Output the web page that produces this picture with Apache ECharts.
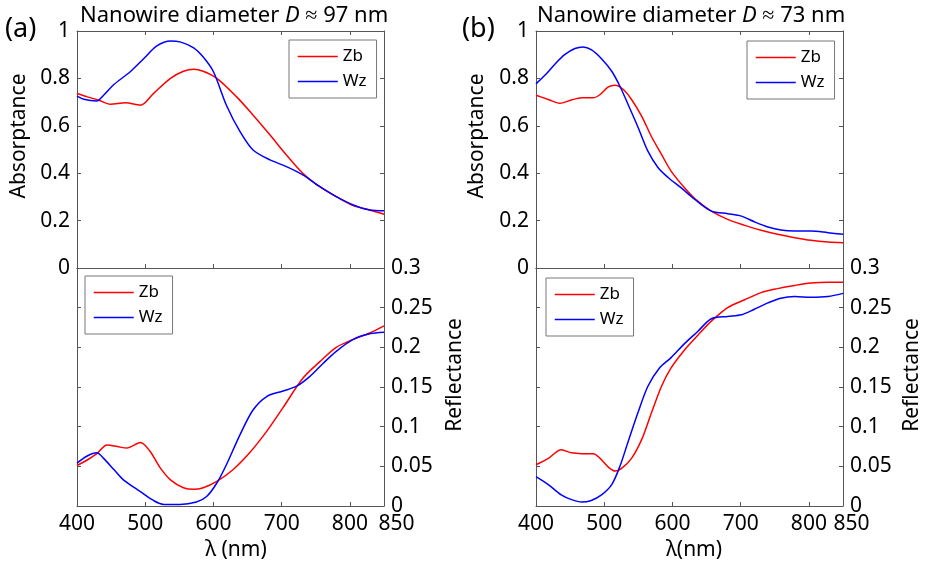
<!DOCTYPE html>
<html>
<head>
<meta charset="utf-8">
<script src="https://cdn.jsdelivr.net/npm/echarts@6/dist/echarts.min.js"></script>
<style>
html,body{margin:0;padding:0;background:#fff;}
#c{width:925px;height:567px;}
</style>
</head>
<body>
<div id="c"></div>
<script>
// ---------- DATA ----------
// Panel (a): D ≈ 97 nm
const aAbsZbLam = [400,415,432,449,471,493,512,537,556,571,585,605,634,656,683,707,731,756,780,805,829,850];
const aAbsZbVal = [0.736,0.722,0.708,0.691,0.697,0.687,0.736,0.800,0.830,0.839,0.830,0.800,0.722,0.652,0.561,0.477,0.400,0.343,0.301,0.263,0.245,0.227];
const aAbsWzLam = [400,410,429,439,454,478,498,517,537,551,571,585,600,619,639,658,683,707,731,756,780,805,829,850];
const aAbsWzVal = [0.725,0.712,0.705,0.729,0.774,0.828,0.884,0.937,0.958,0.954,0.929,0.890,0.828,0.687,0.575,0.498,0.456,0.428,0.393,0.343,0.301,0.266,0.245,0.242];
const aRefZbLam = [400,415,429,444,459,473,493,507,522,537,556,571,585,605,629,653,678,702,731,756,780,805,829,850];
const aRefZbVal = [0.051,0.058,0.066,0.077,0.075,0.073,0.080,0.069,0.048,0.033,0.023,0.021,0.023,0.031,0.046,0.067,0.094,0.124,0.161,0.182,0.200,0.210,0.218,0.227];
const aRefWzLam = [400,415,429,439,454,468,493,512,527,551,575,590,605,619,639,658,678,702,722,741,761,780,805,829,850];
const aRefWzVal = [0.054,0.063,0.067,0.060,0.046,0.033,0.018,0.007,0.002,0.002,0.005,0.012,0.029,0.052,0.090,0.121,0.138,0.145,0.151,0.163,0.180,0.195,0.210,0.217,0.219];

// Panel (b): D ≈ 73 nm
const bAbsZbLam = [400,418,435,452,467,484,494,506,516,528,540,555,569,584,598,618,637,657,681,706,730,754,779,803,828,850];
const bAbsZbVal = [0.729,0.711,0.695,0.709,0.718,0.718,0.732,0.764,0.771,0.753,0.711,0.640,0.556,0.479,0.409,0.338,0.282,0.240,0.205,0.180,0.159,0.142,0.128,0.117,0.110,0.107];
const bAbsWzLam = [400,413,428,442,457,469,481,496,511,523,535,550,564,579,594,613,633,657,681,701,720,740,759,779,803,828,850];
const bAbsWzVal = [0.777,0.813,0.861,0.900,0.926,0.933,0.921,0.883,0.830,0.767,0.690,0.591,0.493,0.423,0.381,0.338,0.289,0.240,0.229,0.219,0.195,0.173,0.160,0.156,0.156,0.149,0.142];
const bRefZbLam = [400,418,437,452,467,484,494,506,516,525,540,555,569,584,598,618,637,657,681,706,730,754,779,803,828,850];
const bRefZbVal = [0.052,0.060,0.071,0.067,0.066,0.066,0.060,0.049,0.044,0.047,0.060,0.084,0.117,0.151,0.174,0.197,0.215,0.233,0.250,0.260,0.269,0.274,0.278,0.281,0.282,0.282];
const bRefWzLam = [400,418,437,452,467,481,496,511,523,535,550,564,581,598,618,637,657,681,701,720,740,759,779,803,828,850];
const bRefWzVal = [0.037,0.027,0.014,0.008,0.005,0.007,0.014,0.027,0.050,0.081,0.119,0.151,0.174,0.187,0.205,0.220,0.236,0.239,0.241,0.248,0.256,0.262,0.264,0.263,0.264,0.268];

const xMin = 400, xMax = 850, xInterval = 100;
const absMax = 1, absInterval = 0.2;
const refMax = 0.3, refInterval = 0.05;
const seriesNames = ['Zb', 'Wz'];
const titleA = 'Nanowire diameter ';
const titleAVal = ' ≈ 97 nm';
const titleBVal = ' ≈ 73 nm';

// ---------- STYLE ----------
const FONT = 'Noto Sans';
const frame = '#555';
const RED = '#ff0000', BLUE = '#0000ff';
const panels = [
  {left: 77, maxShift: 25, absZb: [aAbsZbLam, aAbsZbVal], absWz: [aAbsWzLam, aAbsWzVal], refZb: [aRefZbLam, aRefZbVal], refWz: [aRefWzLam, aRefWzVal]},
  {left: 536, maxShift: 17, absZb: [bAbsZbLam, bAbsZbVal], absWz: [bAbsWzLam, bAbsWzVal], refZb: [bRefZbLam, bRefZbVal], refWz: [bRefWzLam, bRefWzVal]}
];
const W = 307, TOP = 31, MID = 268, BOT = 506;

const grid = [], xAxis = [], yAxis = [], series = [];
function pairs(p){ return p[0].map((x,i)=>[x, p[1][i]]); }
function xAx(gi, pos, labels, ticks, shift){
  return {type:'value', gridIndex:gi, position:pos, min:xMin, max:xMax, interval:xInterval,
    axisLine:{show:true, onZero:false, lineStyle:{color:frame, width:1}},
    axisTick:{show:ticks, inside:true, length:4, lineStyle:{color:frame}},
    axisLabel:{show:labels, margin:8, color:'#000', fontFamily:FONT, fontSize:21,
      showMinLabel:true, showMaxLabel:true, hideOverlap:false,
      formatter: v => v === xMax ? '{m|' + v + '}' : String(v),
      rich:{m:{padding:[0,0,0,shift||0], color:'#000', fontFamily:FONT, fontSize:21}}},
    splitLine:{show:false}};
}
function yAx(gi, pos, max, interval, labels, ticks){
  return {type:'value', gridIndex:gi, position:pos, min:0, max:max, interval:interval,
    axisLine:{show:true, onZero:false, lineStyle:{color:frame, width:1}},
    axisTick:{show:ticks, inside:true, length:4, lineStyle:{color:frame}},
    axisLabel:{show:labels, margin:7, color:'#000', fontFamily:FONT, fontSize:21},
    splitLine:{show:false}};
}
function line(name, color, xi, yi, p){
  return {type:'line', name:name, xAxisIndex:xi, yAxisIndex:yi, data:pairs(p),
    showSymbol:false, symbol:'none', smooth:0.3, lineStyle:{color:color, width:1.5},
    itemStyle:{color:color}, emphasis:{disabled:true}, animation:false};
}
const legends = [];
const legendPos = [[289,40],[85,276],[747,41],[546,278]];
panels.forEach((p, k) => {
  const gTop = grid.length;
  grid.push({left:p.left, top:TOP, width:W, height:MID-TOP});
  grid.push({left:p.left, top:MID, width:W, height:BOT-MID});
  const xi = xAxis.length;
  xAxis.push(xAx(gTop, 'bottom', false, true));
  xAxis.push(xAx(gTop, 'top', false, true));
  xAxis.push(xAx(gTop+1, 'bottom', true, true, p.maxShift));
  xAxis.push(xAx(gTop+1, 'top', false, false));
  const yi = yAxis.length;
  yAxis.push(yAx(gTop, 'left', absMax, absInterval, true, true));
  yAxis.push(yAx(gTop, 'right', absMax, absInterval, false, true));
  yAxis.push(yAx(gTop+1, 'left', refMax, refInterval, false, true));
  yAxis.push(yAx(gTop+1, 'right', refMax, refInterval, true, true));
  series.push(line(seriesNames[0], RED, xi, yi, p.absZb));
  series.push(line(seriesNames[1], BLUE, xi, yi, p.absWz));
  series.push(line(seriesNames[0], RED, xi+2, yi+3, p.refZb));
  series.push(line(seriesNames[1], BLUE, xi+2, yi+3, p.refWz));
});
legendPos.forEach(pos => {
  legends.push({data:seriesNames, orient:'vertical', left:pos[0], top:pos[1],
    itemWidth:40, itemHeight:14, itemGap:8, padding:[8,10,8,8],
    borderColor:'#777', borderWidth:1, backgroundColor:'#fff', selectedMode:false,
    itemStyle:{opacity:0, borderWidth:0},
    lineStyle:{width:1.5},
    textStyle:{color:'#000', fontFamily:FONT, fontSize:17}});
});

function txt(x, y, text, size, rot, extra){
  return {type:'text', x:x, y:y, rotation:rot||0, silent:true,
    style:Object.assign({text:text, fill:'#000', font:size+'px "'+FONT+'"', align:'center', verticalAlign:'middle'}, extra||{})};
}
const rich = {n:{fontFamily:FONT, fontSize:22, fill:'#000'}, i:{fontFamily:FONT, fontSize:22, fontStyle:'italic', fill:'#000'}};
const graphic = [
  txt(5, 29, '(a)', 27, 0, {align:'left'}),
  txt(462, 29, '(b)', 27, 0, {align:'left'}),
  {type:'text', x:80, y:16, silent:true, style:{text:'{n|'+titleA+'}{i|D}{n|'+titleAVal+'}', rich:rich, align:'left', verticalAlign:'middle'}},
  {type:'text', x:537, y:16, silent:true, style:{text:'{n|'+titleA+'}{i|D}{n|'+titleBVal+'}', rich:rich, align:'left', verticalAlign:'middle'}},
  txt(19, 136, 'Absorptance', 21, Math.PI/2),
  txt(477, 136, 'Absorptance', 21, Math.PI/2),
  txt(455, 375, 'Reflectance', 21, Math.PI/2),
  txt(912, 375, 'Reflectance', 21, Math.PI/2),
  txt(236, 550, 'λ (nm)', 21, 0),
  txt(694, 550, 'λ(nm)', 21, 0)
];

const chart = echarts.init(document.getElementById('c'), null, {renderer:'canvas'});
chart.setOption({animation:false, backgroundColor:'#fff', grid, xAxis, yAxis, series, legend:legends, graphic});
</script>
</body>
</html>
